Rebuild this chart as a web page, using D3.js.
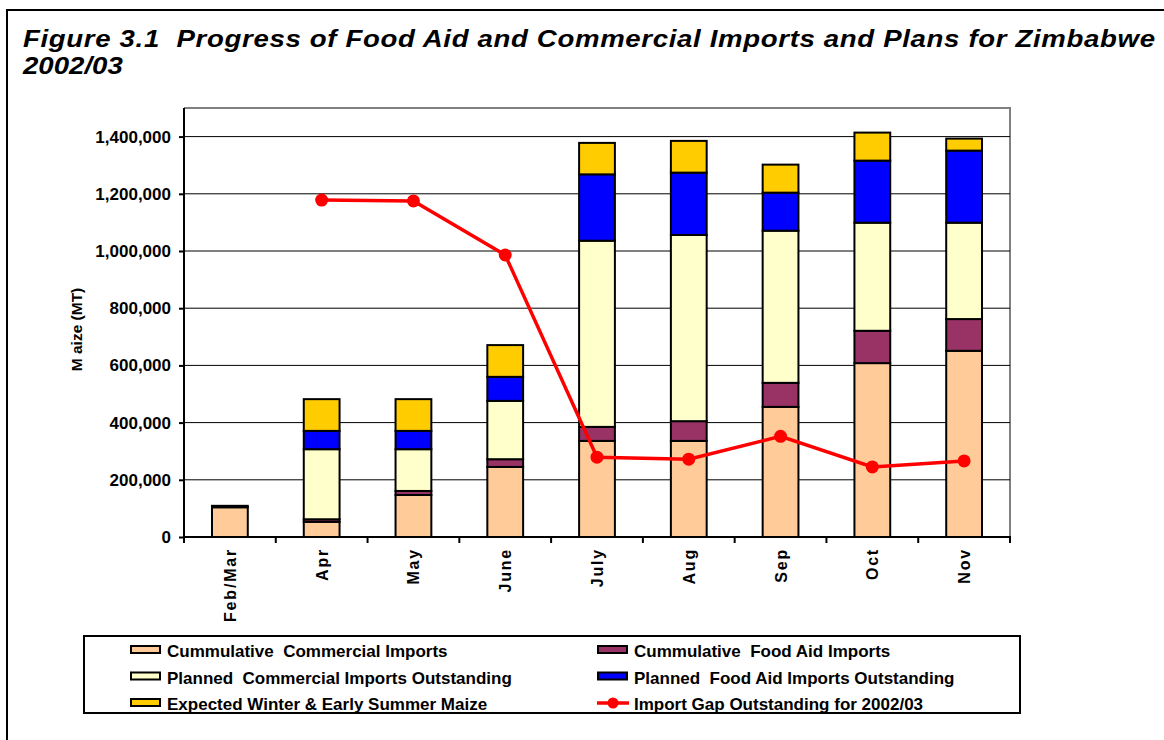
<!DOCTYPE html>
<html>
<head>
<meta charset="utf-8">
<script src="https://cdn.jsdelivr.net/npm/d3@7"></script>
<style>
  body { margin: 0; background: #fff; }
  svg text { font-family: "Liberation Sans", Arial, sans-serif; font-weight: bold; white-space: pre; }
</style>
</head>
<body>
<script>
// Data (MT of maize)
categories = ['Feb/Mar', 'Apr', 'May', 'June', 'July', 'Aug', 'Sep', 'Oct', 'Nov']
commercialImports = [104000, 53000, 147000, 245000, 336000, 336000, 455000, 608000, 651000]
foodAidImports = [5000, 9000, 14000, 27000, 49000, 69000, 84000, 113000, 111000]
plannedCommercial = [0, 245000, 146000, 204000, 651000, 651000, 532000, 378000, 337000]
plannedFoodAid = [0, 64000, 64000, 84000, 232000, 218000, 133000, 217000, 252000]
winterMaize = [0, 111000, 111000, 111000, 110000, 111000, 98000, 98000, 42000]
importGap = [null, 1178000, 1175000, 986000, 279000, 272000, 352000, 245000, 266000]
yTicks = [0, 200000, 400000, 600000, 800000, 1000000, 1200000, 1400000]

seriesNames = [
  'Cummulative  Commercial Imports',
  'Cummulative  Food Aid Imports',
  'Planned  Commercial Imports Outstanding',
  'Planned  Food Aid Imports Outstanding',
  'Expected Winter & Early Summer Maize'
]
seriesColors = ['#FFCC99', '#993366', '#FFFFCC', '#0000FF', '#FFCC00']
lineName = 'Import Gap Outstanding for 2002/03'

function main(){
  let w = 1164
  let h = 740
  let pLeft = 184
  let pRight = 1010
  let pTop = 108
  let pBottom = 537

  let svg = d3.select('body')
          .append('svg')
          .attr('width', w)
          .attr('height', h)

  // outer frame
  svg.append('rect')
     .attr('x', 7).attr('y', 10)
     .attr('width', w + 20).attr('height', h + 20)
     .attr('fill', 'none').attr('stroke', '#000').attr('stroke-width', 2)

  // title (the original is a bit stretched sideways)
  let sx = 1.15
  let title = svg.append('text')
             .attr('transform', `translate(23, 0) scale(${sx}, 1)`)
             .attr('font-size', 24)
             .attr('font-style', 'italic')
  title.append('tspan').attr('x', 0).attr('y', 47)
       .attr('textLength', 1132 / sx).attr('lengthAdjust', 'spacing')
       .text('Figure 3.1  Progress of Food Aid and Commercial Imports and Plans for Zimbabwe')
  title.append('tspan').attr('x', 0).attr('y', 74)
       .text('2002/03')

  // scales
  let xScale = d3.scaleBand()
             .domain(categories)
             .range([pLeft, pRight])
             .padding(0)

  let yScale = d3.scaleLinear()
             .domain([0, 1500000])
             .range([pBottom, pTop])

  let barW = xScale.bandwidth() * 0.39

  // plot area border (grey top/right)
  svg.append('path')
     .attr('d', `M${pLeft},${pTop}H${pRight}V${pBottom}`)
     .attr('fill', 'none').attr('stroke', '#808080').attr('stroke-width', 2)

  // gridlines
  svg.append('g')
     .selectAll('line')
     .data(yTicks.slice(1))
     .enter()
       .append('line')
       .attr('x1', pLeft).attr('x2', pRight)
       .attr('y1', d => yScale(d)).attr('y2', d => yScale(d))
       .attr('stroke', '#000').attr('stroke-width', 1)

  // y axis
  let yAxis = d3.axisLeft(yScale)
            .tickValues(yTicks)
            .tickSize(5)
            .tickPadding(8)
            .tickFormat(d3.format(','))

  let gy = svg.append('g')
          .attr('transform', `translate(${pLeft}, 0)`)
          .call(yAxis)
  gy.select('.domain').remove()
  gy.selectAll('line').attr('stroke-width', 2)
  gy.selectAll('text').attr('font-size', 17).attr('font-family', null)

  svg.append('line')
     .attr('x1', pLeft).attr('x2', pLeft)
     .attr('y1', pTop).attr('y2', pBottom + 1)
     .attr('stroke', '#000').attr('stroke-width', 2)

  svg.append('text')
     .attr('transform', `translate(82, ${(pTop + pBottom) / 2 + 7}) rotate(-90)`)
     .attr('text-anchor', 'middle')
     .attr('font-size', 15.5)
     .text('M aize (MT)')

  // stacked bars
  let rows = categories.map((c, i) => ({
    cat: c,
    s0: commercialImports[i], s1: foodAidImports[i], s2: plannedCommercial[i],
    s3: plannedFoodAid[i], s4: winterMaize[i]
  }))
  let stack = d3.stack().keys(['s0', 's1', 's2', 's3', 's4'])(rows)

  svg.selectAll('g.layer')
     .data(stack)
     .enter()
       .append('g')
       .attr('class', 'layer')
       .attr('fill', (d, i) => seriesColors[i])
       .selectAll('rect')
       .data(d => d)
       .enter()
         .append('rect')
         .attr('x', d => xScale(d.data.cat) + (xScale.bandwidth() - barW) / 2)
         .attr('y', d => yScale(d[1]))
         .attr('width', barW)
         .attr('height', d => yScale(d[0]) - yScale(d[1]))
         .attr('stroke', '#000')
         .attr('stroke-width', 2)

  // x axis
  svg.append('line')
     .attr('x1', pLeft - 1).attr('x2', pRight + 1)
     .attr('y1', pBottom).attr('y2', pBottom)
     .attr('stroke', '#000').attr('stroke-width', 2)

  svg.append('g')
     .selectAll('line')
     .data(categories.concat(['end']))
     .enter()
       .append('line')
       .attr('x1', (d, i) => pLeft + i * xScale.step())
       .attr('x2', (d, i) => pLeft + i * xScale.step())
       .attr('y1', pBottom).attr('y2', pBottom + 6)
       .attr('stroke', '#000').attr('stroke-width', 2)

  svg.append('g')
     .selectAll('text')
     .data(categories)
     .enter()
       .append('text')
       .attr('transform', d => `translate(${xScale(d) + xScale.bandwidth() / 2 + 6}, 548) rotate(-90)`)
       .attr('text-anchor', 'end')
       .attr('font-size', 16)
       .attr('letter-spacing', 1.8)
       .text(d => d)

  // import gap line
  let line = d3.line()
           .defined(d => d != null)
           .x((d, i) => xScale(categories[i]) + xScale.bandwidth() / 2)
           .y(d => yScale(d))

  svg.append('path')
     .datum(importGap)
     .attr('d', line)
     .attr('fill', 'none')
     .attr('stroke', '#FF0000')
     .attr('stroke-width', 3.5)

  svg.append('g')
     .selectAll('circle')
     .data(importGap.map((v, i) => ({ v: v, c: categories[i] })).filter(d => d.v != null))
     .enter()
       .append('circle')
       .attr('cx', d => xScale(d.c) + xScale.bandwidth() / 2)
       .attr('cy', d => yScale(d.v))
       .attr('r', 6.5)
       .attr('fill', '#FF0000')

  // legend
  let lg = svg.append('g')
  lg.append('rect')
    .attr('x', 84).attr('y', 636)
    .attr('width', 936).attr('height', 77)
    .attr('fill', '#fff').attr('stroke', '#000').attr('stroke-width', 2)

  let legendItems = [
    { name: seriesNames[0], color: seriesColors[0] },
    { name: seriesNames[1], color: seriesColors[1] },
    { name: seriesNames[2], color: seriesColors[2] },
    { name: seriesNames[3], color: seriesColors[3] },
    { name: seriesNames[4], color: seriesColors[4] },
    { name: lineName, color: '#FF0000', isLine: true }
  ]

  let items = lg.selectAll('g.item')
            .data(legendItems)
            .enter()
              .append('g')
              .attr('class', 'item')
              .attr('transform', (d, i) => `translate(${i % 2 ? 597 : 130}, ${650 + Math.floor(i / 2) * 26.5})`)

  items.filter(d => !d.isLine)
       .append('rect')
       .attr('x', 1).attr('y', -4)
       .attr('width', 29).attr('height', 7)
       .attr('fill', d => d.color)
       .attr('stroke', '#000').attr('stroke-width', 2)

  items.filter(d => d.isLine)
       .append('line')
       .attr('x1', 0).attr('x2', 32).attr('y1', 0).attr('y2', 0)
       .attr('stroke', '#FF0000').attr('stroke-width', 3.5)
  items.filter(d => d.isLine)
       .append('circle')
       .attr('cx', 16).attr('cy', 0).attr('r', 5.5)
       .attr('fill', '#FF0000')

  items.append('text')
       .attr('x', 37).attr('y', 7)
       .attr('font-size', 17)
       .text(d => d.name)
}

main()
</script>
</body>
</html>
